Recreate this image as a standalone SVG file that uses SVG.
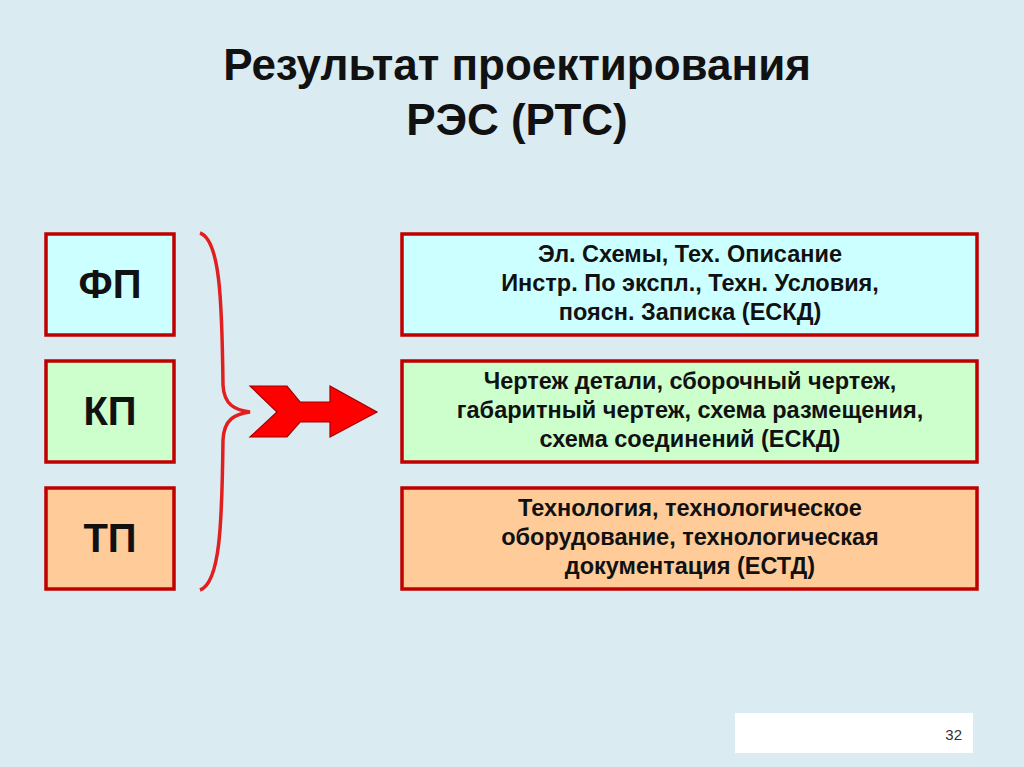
<svg xmlns="http://www.w3.org/2000/svg" width="1024" height="767" viewBox="0 0 1024 767">
<style>
.b{stroke:#c00000;stroke-width:3.5}
.t{font-family:"Liberation Sans",Arial,sans-serif;font-weight:bold;fill:#111}
.big{font-size:40px;text-anchor:middle}
.s{font-size:23.5px;text-anchor:middle}
</style>
<rect width="1024" height="767" fill="#dbebf2"/>
<text class="t" x="517" y="80" font-size="44" text-anchor="middle" fill="#222">Результат проектирования</text>
<text class="t" x="517" y="135" font-size="44" text-anchor="middle" fill="#222">РЭС (РТС)</text>
<g id="fp"><rect class="b" x="46" y="234" width="128" height="101" fill="#ccffff"/><text class="t big" x="110" y="298">ФП</text></g>
<g id="kp"><rect class="b" x="46" y="361" width="128" height="101" fill="#ccffcc"/><text class="t big" x="110" y="425">КП</text></g>
<g id="tp"><rect class="b" x="46" y="488" width="128" height="101" fill="#ffcc99"/><text class="t big" x="110" y="552">ТП</text></g>
<g id="r1"><rect class="b" x="402" y="234" width="575" height="101" fill="#ccffff"/>
<text class="t s" x="690" y="262">Эл. Схемы, Тех. Описание</text><text class="t s" x="690" y="291">Инстр. По экспл., Техн. Условия,</text><text class="t s" x="690" y="320">поясн. Записка (ЕСКД)</text></g>
<g id="r2"><rect class="b" x="402" y="361" width="575" height="101" fill="#ccffcc"/>
<text class="t s" x="690" y="389">Чертеж детали, сборочный чертеж,</text><text class="t s" x="690" y="418">габаритный чертеж, схема размещения,</text><text class="t s" x="690" y="447">схема соединений (ЕСКД)</text></g>
<g id="r3"><rect class="b" x="402" y="488" width="575" height="101" fill="#ffcc99"/>
<text class="t s" x="690" y="516">Технология, технологическое</text><text class="t s" x="690" y="545">оборудование, технологическая</text><text class="t s" x="690" y="574">документация (ЕСТД)</text></g>
<g id="connectors">
<path d="M200,233 C220,240 222,300 223,385 C224,405 235,410 250,412 C235,414 224,419 223,440 C222,525 220,583 200,590" fill="none" stroke="#e02020" stroke-width="3.5"/>
<polygon points="250,386 287,386 300,402 330,402 330,386 377,412 330,437 330,422 300,422 287,437 250,437 277,412" fill="#ff0000" stroke="#a00000" stroke-width="1.2"/>
</g>
<g id="page"><rect x="735" y="713" width="238" height="40" fill="#fff"/><text x="962" y="740" font-family="Liberation Sans,Arial,sans-serif" font-size="15" text-anchor="end" fill="#333">32</text></g>
</svg>
